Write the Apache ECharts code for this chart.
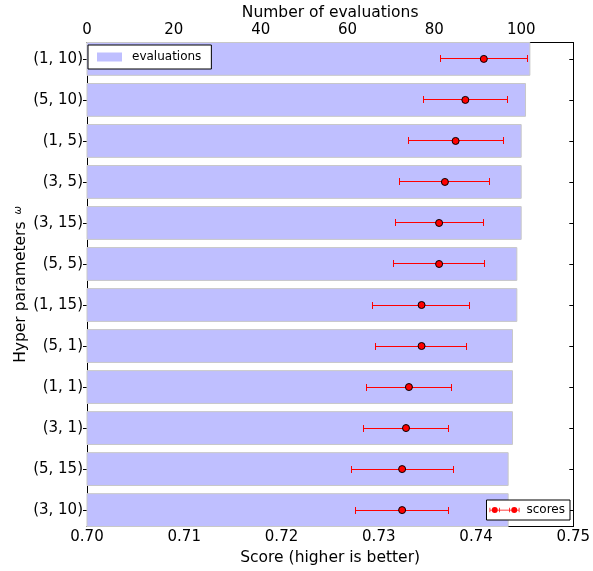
<!DOCTYPE html>
<html>
<head>
<meta charset="utf-8">
<script src="https://cdn.jsdelivr.net/npm/echarts@6/dist/echarts.min.js"></script>
<style>html,body{margin:0;padding:0;background:#fff;}#c{width:593px;height:571px;}</style>
</head>
<body>
<div id="c"></div>
<script>
const categories = ['(1, 10)', '(5, 10)', '(1, 5)', '(3, 5)', '(3, 15)', '(5, 5)', '(1, 15)', '(5, 1)', '(1, 1)', '(3, 1)', '(5, 15)', '(3, 10)'];
const evaluations = [102, 101, 100, 100, 100, 99, 99, 98, 98, 98, 97, 97];
const scores = [0.7408, 0.7389, 0.7379, 0.7368, 0.7362, 0.7362, 0.7344, 0.7344, 0.7331, 0.7328, 0.7324, 0.7324];
const scoreLow = [0.7363, 0.7346, 0.7331, 0.7321, 0.7317, 0.7315, 0.7294, 0.7297, 0.7287, 0.7284, 0.7272, 0.7276];
const scoreHigh = [0.7453, 0.7432, 0.7428, 0.7414, 0.7408, 0.7409, 0.7393, 0.7390, 0.7375, 0.7372, 0.7377, 0.7372];
const scoreTicks = [0.70, 0.71, 0.72, 0.73, 0.74, 0.75];
const evalTicks = [0, 20, 40, 60, 80, 100];
const catIdx = categories.map((c, i) => i);

const font = 'DejaVu Sans';
const chart = echarts.init(document.getElementById('c'), null, {renderer: 'canvas'});
const axisLine = {show: true, onZero: false, lineStyle: {color: '#000', width: 1}};

const scoresIcon = 'path://M0 4.5H40V5.5H0Z M0 2H1V8H0Z M13 2H14V8H13Z M26 2H27V8H26Z M39 2H40V8H39Z M3 5A4 4 0 0 1 11 5A4 4 0 0 1 3 5Z M29 5A4 4 0 0 1 37 5A4 4 0 0 1 29 5Z';

chart.setOption({
  animation: false,
  textStyle: {fontFamily: font},
  grid: {left: 87, right: 18, top: 40.5, bottom: 43.5, containLabel: false},
  legend: [
    {
      data: [{name: 'evaluations', icon: 'rect', itemStyle: {color: '#bfbfff', borderWidth: 0}}],
      left: 88, top: 45, orient: 'vertical',
      padding: [6, 10, 6, 9], itemWidth: 25, itemHeight: 9,
      borderColor: '#000', borderWidth: 1, backgroundColor: '#fff',
      textStyle: {fontFamily: font, fontSize: 12, color: '#000', padding: [0, 0, 0, 5]}
    },
    {
      data: [{name: 'scores', icon: scoresIcon, itemStyle: {color: '#ff0000', borderWidth: 0}}],
      right: 23, top: 500, orient: 'vertical',
      padding: [4, 5, 4, 3], itemWidth: 30, itemHeight: 8,
      borderColor: '#000', borderWidth: 1, backgroundColor: '#fff',
      textStyle: {fontFamily: font, fontSize: 12, color: '#000', padding: [0, 0, 0, 2]}
    }
  ],
  xAxis: [
    {
      type: 'value', position: 'bottom', min: 0.70, max: 0.75, interval: 0.01,
      name: 'Score (higher is better)', nameLocation: 'middle', nameGap: 23.5, nameMoveOverlap: false,
      nameTextStyle: {fontFamily: font, fontSize: 15.5, color: '#000'},
      axisLine: axisLine,
      axisTick: {show: true, inside: true, length: 4, lineStyle: {color: '#000'}, customValues: scoreTicks},
      axisLabel: {color: '#000', fontSize: 15, fontFamily: font, margin: 3, customValues: scoreTicks,
        formatter: v => v.toFixed(2)},
      splitLine: {show: false}
    },
    {
      type: 'value', position: 'top', min: 0, max: 112,
      name: 'Number of evaluations', nameLocation: 'middle', nameGap: 21.5, nameMoveOverlap: false,
      nameTextStyle: {fontFamily: font, fontSize: 15.5, color: '#000'},
      axisLine: axisLine,
      axisTick: {show: true, inside: true, length: 4, lineStyle: {color: '#000'}, customValues: evalTicks},
      axisLabel: {color: '#000', fontSize: 15, fontFamily: font, margin: 5, customValues: evalTicks},
      splitLine: {show: false}
    }
  ],
  yAxis: [
    {
      type: 'value', position: 'left', min: -0.4, max: 11.4, inverse: true,
      name: 'Hyper parameters {w|ω}', nameLocation: 'middle', nameGap: 58, nameRotate: 90, nameMoveOverlap: false,
      nameTextStyle: {fontFamily: font, fontSize: 15.5, color: '#000',
        rich: {w: {fontFamily: font, fontSize: 10, fontStyle: 'italic', color: '#000', verticalAlign: 'top', padding: [0, 0, 4, 2]}}},
      axisLine: axisLine,
      axisTick: {show: true, inside: false, length: 4, lineStyle: {color: '#000'}, customValues: catIdx},
      axisLabel: {color: '#000', fontSize: 15, fontFamily: font, margin: 4, customValues: catIdx,
        formatter: v => categories[Math.round(v)]},
      splitLine: {show: false}
    },
    {
      type: 'value', position: 'right', min: -0.4, max: 11.4, inverse: true,
      axisLine: axisLine,
      axisTick: {show: true, inside: true, length: 4, lineStyle: {color: '#000'}, customValues: catIdx},
      axisLabel: {show: false},
      splitLine: {show: false}
    }
  ],
  series: [
    {
      name: 'evaluations', type: 'custom', xAxisIndex: 1, yAxisIndex: 0,
      itemStyle: {color: '#bfbfff'},
      encode: {x: 1, y: 0},
      data: evaluations.map((v, i) => [i, v]),
      renderItem: function (params, api) {
        const y = api.value(0), v = api.value(1);
        const p0 = api.coord([0, y - 0.4]);
        const p1 = api.coord([v, y + 0.4]);
        return {
          type: 'rect',
          shape: {x: p0[0], y: Math.min(p0[1], p1[1]), width: p1[0] - p0[0], height: Math.abs(p1[1] - p0[1])},
          style: {fill: '#bfbfff', stroke: '#c8c8c8', lineWidth: 1}
        };
      },
      z: 1
    },
    {
      name: 'scoreErrors', type: 'custom', xAxisIndex: 0, yAxisIndex: 0,
      encode: {x: [1, 2], y: 0},
      data: scoreLow.map((lo, i) => [i, lo, scoreHigh[i]]),
      renderItem: function (params, api) {
        const y = api.value(0);
        const a = api.coord([api.value(1), y]);
        const b = api.coord([api.value(2), y]);
        const yy = Math.floor(a[1]), xa = Math.floor(a[0]), xb = Math.floor(b[0]);
        const st = {fill: '#ff0000', lineWidth: 0};
        return {
          type: 'group',
          children: [
            {type: 'rect', shape: {x: xa, y: yy, width: xb - xa + 1, height: 1}, style: st},
            {type: 'rect', shape: {x: xa, y: yy - 3, width: 1, height: 7}, style: st},
            {type: 'rect', shape: {x: xb, y: yy - 3, width: 1, height: 7}, style: st}
          ]
        };
      },
      z: 2
    },
    {
      name: 'scores', type: 'scatter', xAxisIndex: 0, yAxisIndex: 0,
      symbol: 'circle', symbolSize: 7,
      itemStyle: {color: '#ff0000', borderColor: '#000', borderWidth: 1, opacity: 1},
      data: scores.map((s, i) => [s, i]),
      z: 3
    }
  ]
});
</script>
</body>
</html>
